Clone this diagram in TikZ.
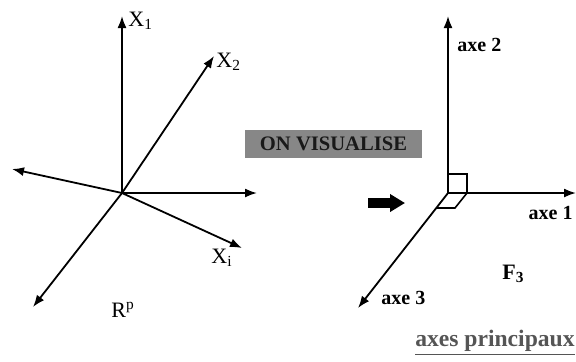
\documentclass[tikz,border=0pt]{standalone}
\usepackage{fontspec}
\setmainfont{Liberation Serif}
\usepackage{xcolor}
\usepackage{tikz}
\usetikzlibrary{arrows.meta, positioning}
\definecolor{BoxGray}{RGB}{135, 135, 135}
\definecolor{BoxText}{RGB}{25, 25, 25}
\definecolor{TitleGray}{RGB}{85, 85, 85}

\begin{document}
\begin{tikzpicture}[
    x=0.5pt, y=-0.5pt,
    axis/.style={-{Latex[length=6pt, width=4.5pt]}, line width=0.9pt, color=black},
    axlabel/.style={font=\fontsize{10}{12}\selectfont\bfseries, inner sep=0pt},
    varlabel/.style={font=\fontsize{11}{13}\selectfont, inner sep=0pt},
    visubox/.style={rectangle, fill=BoxGray, text=BoxText, inner sep=0pt, minimum width=88.5pt, minimum height=14pt, font=\fontsize{10.3}{12}\selectfont\bfseries},
    bigarr/.style={-{Triangle[length=7.5pt, width=8.5pt]}, line width=5pt}
]
    \useasboundingbox (0,0) rectangle (576,361);

    % Espace R^p
    \coordinate (o) at (122,193);
    \coordinate (x1) at (122,16);
    \coordinate (x2) at (214,56);
    \coordinate (xl) at (12,169);
    \coordinate (xr) at (257,193);
    \coordinate (xi) at (242,248);
    \coordinate (xd) at (33,307);

    \draw[axis] (o) -- (x1);
    \draw[axis] (o) -- (x2);
    \draw[axis] (o) -- (xl);
    \draw[axis] (o) -- (xr);
    \draw[axis] (o) -- (xi);
    \draw[axis] (o) -- (xd);

    \node[varlabel, anchor=west] (lx1) at (128,21) {X\textsubscript{1}};
    \node[varlabel, anchor=west] (lx2) at (216,62) {X\textsubscript{2}};
    \node[varlabel, anchor=west] (lxi) at (211,258) {X\textsubscript{i}};
    \node[varlabel, anchor=west] (lrp) at (111,310) {R\textsuperscript{p}};

    % Passage
    \node[visubox] (visu) at (333.5,144) {ON VISUALISE};
    \coordinate (arrS) at (368,203);
    \coordinate (arrE) at (405,203);
    \draw[bigarr] (arrS) -- (arrE);

    % Axes principaux
    \coordinate (O) at (448,193);
    \coordinate (a1) at (576,193);
    \coordinate (a2) at (448,16);
    \coordinate (a3) at (358,308);

    \draw[axis] (O) -- (a1);
    \draw[axis] (O) -- (a2);
    \draw[axis] (O) -- (a3);

    \draw[line width=0.8pt] (448,174) -- (467,174) -- (467,193) -- (455,208) -- (436.5,208);

    \node[axlabel, anchor=west] (la2) at (457,45) {axe 2};
    \node[axlabel, anchor=east] (la1) at (573,213) {axe 1};
    \node[axlabel, anchor=west] (la3) at (381,298) {axe 3};
    \node[varlabel, font=\fontsize{11}{13}\selectfont\bfseries, anchor=west] (lf3) at (502,274) {F\textsubscript{3}};

    \node[font=\fontsize{11.8}{14}\selectfont\bfseries, text=TitleGray, inner sep=0pt, anchor=east] (title) at (575,343) {\underline{axes principaux}};

\end{tikzpicture}
\end{document}
